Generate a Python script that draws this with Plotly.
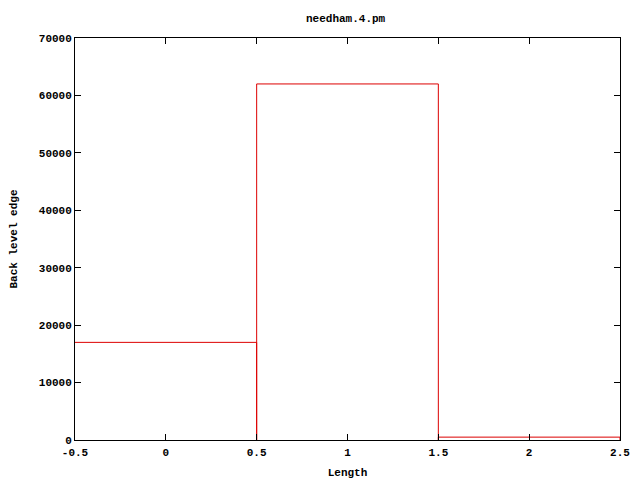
import plotly.graph_objects as go

categories = [0, 1, 2]
values = [17000, 62000, 500]
x_ticks = [-0.5, 0, 0.5, 1, 1.5, 2, 2.5]
x_tick_labels = ["-0.5", "0", "0.5", "1", "1.5", "2", "2.5"]
y_ticks = [0, 10000, 20000, 30000, 40000, 50000, 60000, 70000]

font = dict(family="Liberation Mono, DejaVu Sans Mono, monospace", size=11, color="black")

# box outlines (gnuplot "boxes" style) built from the data
xs, ys = [], []
for i, (c, v) in enumerate(zip(categories, values)):
    if i > 0:
        xs.append(c - 0.5); ys.append(0)
    xs += [c - 0.5, c + 0.5, c + 0.5]
    ys += [v, v, 0]

fig = go.Figure(go.Scatter(
    x=xs, y=ys, mode="lines", line=dict(color="#dd0000", width=1), hoverinfo="skip",
))

axis_common = dict(showline=True, linecolor="black", linewidth=1, mirror="ticks",
                   ticks="inside", ticklen=6, tickcolor="black", showgrid=False,
                   zeroline=False, tickfont=font, layer="above traces", automargin=False)

fig.update_layout(
    width=640, height=480,
    paper_bgcolor="white", plot_bgcolor="white",
    margin=dict(l=75, r=20, t=38, b=40),
    showlegend=False,
    title=dict(text="<b>needham.4.pm</b>", x=0.54, xanchor="center", y=0.962, yanchor="middle", font=font),
    xaxis=dict(range=[-0.5, 2.5], tickvals=x_ticks, ticktext=["<b>%s</b>" % t for t in x_tick_labels],
               title=dict(text="<b>Length</b>", font=font, standoff=10), ticklabelstandoff=2, **axis_common),
    yaxis=dict(range=[0, 70000], tickvals=y_ticks, ticktext=["<b>%d</b>" % v for v in y_ticks],
               title=dict(text="<b>Back level edge</b>", font=font, standoff=18), **axis_common),
)

fig.write_html("out.html", config={"displayModeBar": False},
               post_script="document.body.style.margin='0';document.body.style.overflow='hidden';")
